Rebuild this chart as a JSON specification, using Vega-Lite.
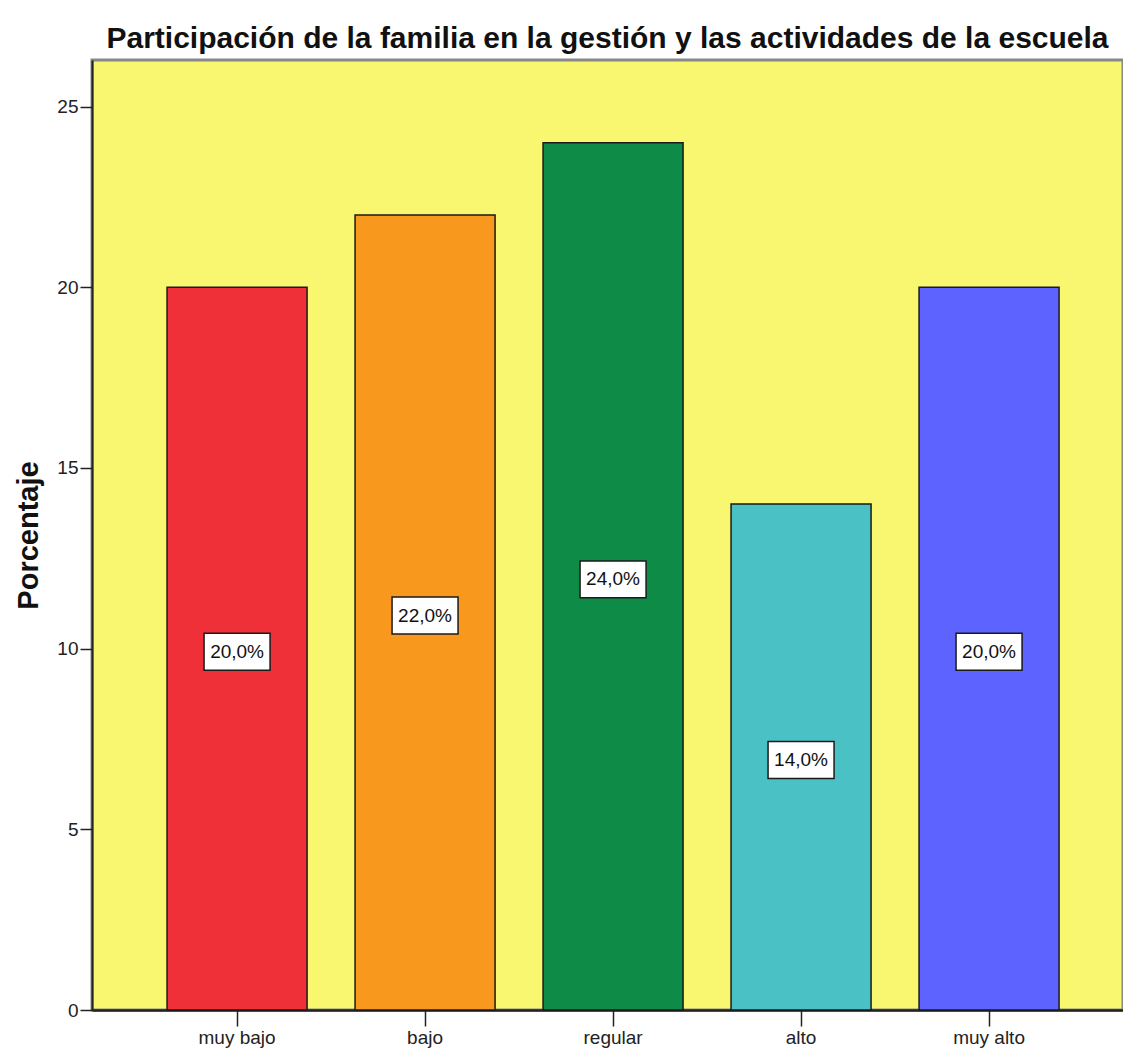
{
  "$schema": "https://vega.github.io/schema/vega-lite/v6.json",
  "autosize": {"type": "none"},
  "padding": {"left": 92, "top": 60, "right": 0, "bottom": 47},
  "width": 1031,
  "height": 950,
  "background": "white",
  "title": {
    "text": "Participación de la familia en la gestión y las actividades de la escuela",
    "font": "Liberation Sans, Arial",
    "fontSize": 30,
    "fontWeight": "bold",
    "color": "#111111",
    "anchor": "middle",
    "frame": "group",
    "baseline": "bottom",
    "offset": 8,
    "dy": 32
  },
  "config": {
    "view": {"fill": "#F9F66F", "stroke": "#888888", "strokeWidth": 3},
    "font": "Liberation Sans, Arial"
  },
  "data": {
    "values": [
      {"cat": "muy bajo", "pct": 20, "label": "20,0%"},
      {"cat": "bajo", "pct": 22, "label": "22,0%"},
      {"cat": "regular", "pct": 24, "label": "24,0%"},
      {"cat": "alto", "pct": 14, "label": "14,0%"},
      {"cat": "muy alto", "pct": 20, "label": "20,0%"}
    ]
  },
  "encoding": {
    "x": {
      "field": "cat",
      "type": "nominal",
      "sort": ["muy bajo", "bajo", "regular", "alto", "muy alto"],
      "scale": {"paddingInner": 0.2553, "paddingOuter": 0.3697, "align": 0.54},
      "axis": {
        "title": null,
        "labelAngle": 0,
        "labelFontSize": 19,
        "labelColor": "#222222",
        "labelPadding": 2,
        "tickSize": 16,
        "tickColor": "#222222",
        "tickWidth": 1.5,
        "domainColor": "#222222",
        "domainWidth": 2.5
      }
    }
  },
  "layer": [
    {
      "mark": {"type": "bar", "stroke": "#1a1a1a", "strokeWidth": 1.5},
      "encoding": {
        "y": {
          "field": "pct",
          "type": "quantitative",
          "scale": {"domain": [0, 26.29], "nice": false, "zero": true},
          "axis": {
            "title": "Porcentaje",
            "titleFontSize": 29,
            "titleFontWeight": "bold",
            "titleColor": "#111111",
            "titleAngle": 270,
            "titleAlign": "center",
            "titleBaseline": "middle",
            "titleX": -64,
            "titleY": 475,
            "values": [0, 5, 10, 15, 20, 25],
            "grid": false,
            "labelFontSize": 19,
            "labelColor": "#222222",
            "labelPadding": 2,
            "tickSize": 12,
            "tickColor": "#222222",
            "tickWidth": 1.5,
            "domainColor": "#222222",
            "domainWidth": 2
          }
        },
        "color": {
          "field": "cat",
          "type": "nominal",
          "scale": {
            "domain": ["muy bajo", "bajo", "regular", "alto", "muy alto"],
            "range": ["#EF3039", "#F8991D", "#0F8B48", "#4AC2C5", "#5C63FF"]
          },
          "legend": null
        }
      }
    },
    {
      "layer": [
        {
          "mark": {
            "type": "point",
            "shape": "M-1,-0.56H1V0.56H-1Z",
            "filled": true,
            "fill": "white",
            "stroke": "#1a1a1a",
            "strokeWidth": 1.5,
            "opacity": 1,
            "size": 4356,
            "yOffset": 3
          },
          "encoding": {
            "y": {"field": "pct", "type": "quantitative", "scale": {"domain": [0, 52.58], "nice": false, "zero": true}, "axis": null}
          }
        },
        {
          "mark": {"type": "text", "fontSize": 19, "color": "#111111", "baseline": "middle", "align": "center", "yOffset": 3},
          "encoding": {
            "y": {"field": "pct", "type": "quantitative", "scale": {"domain": [0, 52.58], "nice": false, "zero": true}, "axis": null},
            "text": {"field": "label"}
          }
        }
      ]
    }
  ],
  "resolve": {"scale": {"y": "independent"}}
}
